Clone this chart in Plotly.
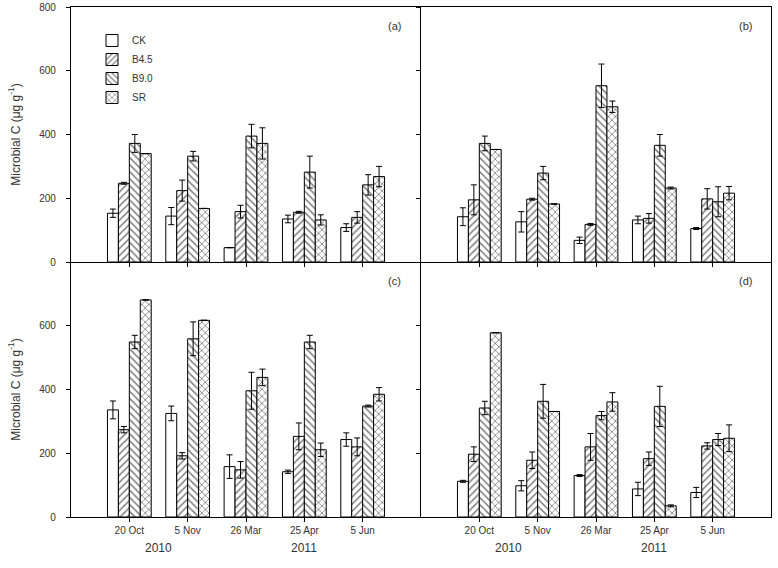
import plotly.graph_objects as go

dates = ["20 Oct", "5 Nov", "26 Mar", "25 Apr", "5 Jun"]
series = ["CK", "B4.5", "B9.0", "SR"]
panel_labels = ["(a)", "(b)", "(c)", "(d)"]

# values per panel: CK, B4.5, B9.0, SR
a_ck = [153, 144, 45, 135, 108]
a_b45 = [247, 224, 158, 156, 140]
a_b90 = [372, 332, 395, 282, 242]
a_sr = [340, 168, 372, 132, 268]
a_ck_e = [13, 27, 0, 12, 12]
a_b45_e = [3, 33, 20, 3, 18]
a_b90_e = [28, 15, 37, 50, 32]
a_sr_e = [0, 0, 49, 16, 32]

b_ck = [142, 126, 68, 132, 105]
b_b45 = [195, 197, 118, 137, 198]
b_b90 = [372, 279, 553, 366, 189]
b_sr = [353, 182, 487, 232, 216]
b_ck_e = [28, 32, 10, 12, 3]
b_b45_e = [47, 3, 3, 15, 32]
b_b90_e = [23, 21, 68, 34, 47]
b_sr_e = [0, 0, 18, 3, 21]

c_ck = [336, 325, 158, 142, 243]
c_b45 = [274, 192, 148, 253, 220]
c_b90 = [549, 559, 396, 549, 348]
c_sr = [681, 617, 438, 211, 385]
c_ck_e = [28, 23, 37, 5, 21]
c_b45_e = [10, 10, 26, 42, 28]
c_b90_e = [21, 53, 58, 21, 3]
c_sr_e = [0, 0, 26, 21, 21]

d_ck = [112, 98, 130, 88, 77]
d_b45 = [197, 178, 220, 183, 223]
d_b90 = [342, 363, 318, 347, 243]
d_sr = [578, 331, 361, 35, 247]
d_ck_e = [3, 16, 3, 21, 16]
d_b45_e = [23, 26, 42, 21, 10]
d_b90_e = [21, 53, 13, 63, 19]
d_sr_e = [0, 0, 29, 3, 42]

years = ["2010", "2011"]
year_pos = [0.5, 3.0]

panels = [
    ([a_ck, a_b45, a_b90, a_sr], [a_ck_e, a_b45_e, a_b90_e, a_sr_e]),
    ([b_ck, b_b45, b_b90, b_sr], [b_ck_e, b_b45_e, b_b90_e, b_sr_e]),
    ([c_ck, c_b45, c_b90, c_sr], [c_ck_e, c_b45_e, c_b90_e, c_sr_e]),
    ([d_ck, d_b45, d_b90, d_sr], [d_ck_e, d_b45_e, d_b90_e, d_sr_e]),
]

shapes_pat = ["", "/", "\\", "x"]

W, H = 778, 568
xd = [[71 / W, 421 / W], [421 / W, 771 / W]]
yd = [[(H - 262) / H, (H - 7) / H], [(H - 517) / H, (H - 262) / H]]

fig = go.Figure()
font = "Liberation Sans, Arial, sans-serif"
tcol = "#333333"
LW = 1.2

for p, (vals, errs) in enumerate(panels):
    row, col = divmod(p, 2)
    n = p + 1
    xa = "x" if n == 1 else f"x{n}"
    ya = "y" if n == 1 else f"y{n}"
    for s in range(4):
        fig.add_trace(go.Bar(
            x=dates, y=vals[s], name=series[s],
            xaxis=xa, yaxis=ya, offsetgroup=str(s),
            legendgroup=series[s], showlegend=(p == 0),
            marker=dict(color="white", line=dict(color="black", width=1),
                        pattern=dict(shape=shapes_pat[s], fgcolor="black", bgcolor="white",
                                     size=5, solidity=0.3, fillmode="overlay")),
            error_y=dict(type="data", array=errs[s], visible=True, color="black",
                         thickness=1, width=3),
        ))
    xkey = "xaxis" if n == 1 else f"xaxis{n}"
    ykey = "yaxis" if n == 1 else f"yaxis{n}"
    fig.layout[xkey] = dict(
        domain=xd[col], anchor=ya, type="category", range=[-1, 5],
        showline=True, mirror=(row == 0), linecolor="black", linewidth=LW,
        ticks="outside", ticklen=4, tickcolor="black", automargin=False,
        showticklabels=(row == 1), tickfont=dict(size=10, color=tcol, family=font),
        showgrid=False, zeroline=False, categoryorder="array", categoryarray=dates,
    )
    ycfg = dict(
        domain=yd[row], anchor=xa, range=[0, 800],
        tickvals=[0, 200, 400, 600, 800] if row == 0 else [0, 200, 400, 600],
        showline=True, mirror=(col == 1), linecolor="black", linewidth=LW,
        ticks="outside", ticklen=4, tickcolor="black", automargin=False,
        ticklabelstandoff=8,
        showticklabels=(col == 0), tickfont=dict(size=10, color=tcol, family=font),
        showgrid=False, zeroline=False,
    )
    if col == 0:
        ycfg["title"] = dict(text="Microbial C (μg g<sup>-1</sup>)",
                             font=dict(size=12, color=tcol, family=font), standoff=16)
    fig.layout[ykey] = ycfg
    fig.add_annotation(x=0.95, y=0.955, xref=f"{xa} domain", yref=f"{ya} domain",
                       text=panel_labels[p], showarrow=False,
                       font=dict(size=11, color=tcol, family=font))
    if row == 1:
        for yr, yp in zip(years, year_pos):
            fig.add_annotation(x=yp, y=-0.122, xref=xa, yref=f"{ya} domain",
                               text=yr, showarrow=False, yanchor="middle",
                               font=dict(size=12, color=tcol, family=font))

fig.update_layout(
    width=W, height=H, margin=dict(l=0, r=0, t=0, b=0),
    paper_bgcolor="white", plot_bgcolor="white",
    barmode="group", bargap=0.25, bargroupgap=0,
    legend=dict(x=92 / W, y=(H - 26) / H, xanchor="left", yanchor="top",
                bgcolor="rgba(0,0,0,0)", font=dict(size=10, color=tcol, family=font),
                tracegroupgap=0, itemwidth=30),
    font=dict(family=font),
)

fig.write_html("out.html", config={"displayModeBar": False},
               post_script="document.body.style.margin='0';")
